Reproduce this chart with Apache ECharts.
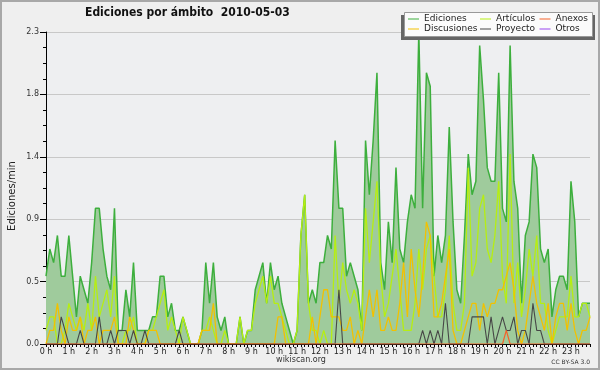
<!DOCTYPE html>
<html><head><meta charset="utf-8">
<script src="https://cdn.jsdelivr.net/npm/echarts@6/dist/echarts.min.js"></script>
<style>html,body{margin:0;padding:0;background:#efefef}#c{width:600px;height:370px}</style>
</head><body><div id="c"></div>
<script>
// ---- data ----
const hourLabels = ["0 h","1 h","2 h","3 h","4 h","5 h","6 h","7 h","8 h","9 h","10 h","11 h","12 h","13 h","14 h","15 h","16 h","17 h","18 h","19 h","20 h","21 h","22 h","23 h"];
const yTickLabels = ["0.0","0.5","0.9","1.4","1.8","2.3"];
const times = [];
for (let h = 0; h < 24; h++) for (let m = 0; m < 60; m += 10) times.push(String(h).padStart(2,"0") + ":" + String(m).padStart(2,"0"));

const ediciones = [
0.5,0.7,0.6,0.8,0.5,0.5,0.8,0.5,0.2,0.5,0.4,0.3,
0.6,1.0,1.0,0.7,0.5,0.4,1.0,0.1,0.1,0.4,0.2,0.6,
0.1,0.1,0.1,0.1,0.2,0.2,0.5,0.5,0.2,0.3,0.1,0.1,
0.2,0.1,0,0,0,0.1,0.6,0.3,0.6,0.2,0.1,0.2,
0,0,0,0.2,0,0.1,0.1,0.4,0.5,0.6,0.3,0.6,
0.4,0.5,0.3,0.2,0.1,0,0.1,0.8,1.1,0.3,0.4,0.3,
0.6,0.6,0.8,0.7,1.5,1.0,1.0,0.5,0.6,0.5,0.4,0.1,
1.5,1.1,1.5,2.0,0.6,0.4,0.9,0.6,1.3,0.7,0.6,0.9,
1.1,1.0,2.3,1.0,2.0,1.9,0.5,0.8,0.6,0.8,1.6,0.9,
0.4,0.3,0.8,1.4,1.1,1.2,2.2,1.8,1.3,1.2,1.2,2.0,
1.0,0.9,2.2,1.2,1.0,0.3,0.8,0.9,1.4,1.3,0.7,0.6,
0.7,0.2,0.4,0.5,0.5,0.4,1.2,0.9,0.2,0.3,0.3,0.3];

const articulos = [
0.1,0.2,0.2,0,0,0.1,0.3,0.2,0.1,0.2,0.1,0.3,
0.1,0.5,0.2,0.3,0.4,0.2,0.5,0,0,0.1,0.1,0.2,
0,0,0,0.1,0.1,0.2,0.3,0.4,0.1,0.2,0.1,0,
0.2,0.1,0,0,0,0.1,0.1,0.2,0.1,0,0,0.1,
0,0,0,0.2,0,0.1,0.1,0.3,0.4,0.5,0.3,0.5,
0.3,0.3,0.2,0.1,0,0,0.1,0.8,1.1,0.3,0.1,0.1,
0,0.1,0,0,0.8,0.3,0.6,0.4,0.3,0.4,0.3,0.1,
1.0,0.6,0.9,1.2,0.5,0.2,0.3,0.5,0.7,0.4,0.1,0.1,
0.1,0.3,0.7,0.4,0.7,0.8,0.5,0.2,0.2,0.4,0.8,0.3,
0.1,0.1,0.3,1.3,0.5,0.6,1.0,1.1,0.7,0.6,0.8,1.2,
0.5,0.3,1.4,0.3,0.6,0.2,0.4,0.7,0.5,0.8,0.3,0.3,
0.1,0,0.1,0.2,0.2,0.2,0.5,0.2,0.2,0.3,0.3,0.2];

const discusiones = [
0,0.1,0.1,0.3,0.1,0,0.2,0.1,0.1,0.2,0,0.1,
0.1,0.2,0,0.1,0.1,0.1,0.2,0,0,0,0.2,0.1,
0,0,0,0.1,0.1,0.1,0,0,0,0,0,0,
0,0,0,0,0,0.1,0.1,0.1,0.3,0,0,0,
0,0,0,0,0,0,0,0,0,0,0,0,
0,0.2,0.2,0,0,0,0,0,0,0,0.2,0,
0.2,0.4,0.4,0.2,0.2,0.2,0.1,0.1,0.2,0,0.1,0,
0.2,0.4,0.2,0.4,0.1,0.1,0.2,0.1,0.1,0.3,0.6,0.2,
0.7,0.4,0.2,0.5,0.9,0.8,0.2,0.2,0.3,0.5,0.7,0.1,
0,0,0.1,0.2,0.3,0.3,0.1,0.3,0.2,0.3,0.3,0.4,
0.4,0.5,0.6,0.4,0.1,0,0.1,0.3,0.5,0.3,0.2,0.1,
0.3,0,0.2,0.3,0.3,0.1,0.3,0.1,0,0.1,0.1,0.2];

const proyecto = [
0,0,0,0,0.2,0.1,0,0,0,0.1,0,0,
0,0,0.2,0,0,0.1,0,0.1,0.1,0.1,0,0.1,
0,0,0.1,0,0,0,0,0,0,0,0,0.1,
0,0,0,0,0,0,0,0,0,0,0,0,
0,0,0,0,0,0,0,0,0,0,0,0,
0,0,0,0,0,0,0,0,0,0,0,0,
0,0,0,0,0,0.4,0,0,0,0,0,0,
0,0,0,0,0,0,0,0,0,0,0,0,
0,0,0,0.1,0,0.1,0,0.1,0,0.3,0,0,
0,0,0,0,0.2,0.2,0.2,0.2,0,0.2,0,0.1,
0.2,0.1,0.1,0.2,0,0.1,0.1,0,0.3,0.1,0.1,0,
0,0,0,0,0,0,0,0,0,0,0,0];

const anexos = [
0,0,0,0,0,0,0,0,0,0,0,0,
0,0,0,0,0,0,0,0,0,0,0,0,
0,0,0,0,0,0,0,0,0,0,0,0,
0,0,0,0,0,0,0,0,0,0,0,0,
0,0,0,0,0,0,0,0,0,0,0,0,
0,0,0,0,0,0,0,0,0,0,0,0,
0,0,0,0,0,0,0,0,0,0,0,0,
0,0,0,0,0,0,0,0,0,0,0,0,
0,0,0,0,0,0,0,0,0,0,0,0,
0,0,0,0,0,0,0,0,0,0,0,0,
0,0.1,0,0,0,0,0,0,0,0,0,0,
0,0,0,0,0,0,0,0,0,0,0,0];

const otros = [
0,0,0,0,0,0,0,0,0,0,0,0,
0,0,0,0,0,0,0,0,0,0,0,0,
0,0,0,0,0,0,0,0,0,0,0,0,
0,0,0,0,0,0,0,0,0,0,0,0,
0,0,0,0,0,0,0,0,0,0,0,0,
0,0,0,0,0,0,0,0,0,0,0,0,
0,0,0,0,0,0,0,0,0,0,0,0,
0,0,0,0,0,0,0,0,0,0,0,0,
0,0,0,0,0,0,0,0,0,0,0,0,
0,0,0,0,0,0,0,0,0,0,0,0,
0,0,0,0,0,0,0,0,0,0,0,0,
0,0,0,0,0,0,0,0,0,0,0,0];

// ---- chart ----
const FONT = "DejaVu Sans";
const chart = echarts.init(document.getElementById('c'), null, {renderer: 'canvas'});
const lineSeries = (name, data, color, width, z) => ({
  name, type: 'line', data, symbol: 'none', z,
  lineStyle: {color, width}, itemStyle: {color}, animation: false
});
const legendBase = (left, names) => ({
  left, top: 14, orient: 'vertical', itemGap: 0, itemWidth: 11, itemHeight: 1,
  icon: 'rect', selectedMode: false, padding: 0, data: names, z: 110,
  textStyle: {fontFamily: FONT, fontSize: 9, color: '#222', lineHeight: 10, padding: [0,0,0,0]}
});
chart.setOption({
  animation: false,
  backgroundColor: '#efefef',
  title: {
    text: 'Ediciones por ámbito  2010-05-03', left: 80, top: 2,
    textStyle: {fontFamily: "'DejaVu Sans Condensed', 'DejaVu Sans'", fontSize: 12, fontWeight: 'bold', color: '#111'}
  },
  graphic: [
    {type: 'rect', shape: {x: 1, y: 1, width: 598, height: 368}, style: {fill: 'none', stroke: '#a8a8a8', lineWidth: 2}, z: -10},
    {type: 'rect', shape: {x: 401, y: 15, width: 194, height: 25}, style: {fill: '#666'}, z: 100},
    {type: 'rect', shape: {x: 404.5, y: 12.5, width: 188, height: 24}, style: {fill: '#fbfbfb', stroke: '#999', lineWidth: 1}, z: 101},
    {type: 'text', x: 12, y: 196, rotation: Math.PI / 2,
      style: {text: 'Ediciones/min', font: '10px "DejaVu Sans"', fill: '#222', align: 'center', verticalAlign: 'middle'}},
    {type: 'text', x: 301, y: 360,
      style: {text: 'wikiscan.org', font: '8px "DejaVu Sans"', fill: '#333', align: 'center', verticalAlign: 'middle'}},
    {type: 'text', x: 590, y: 362,
      style: {text: 'CC BY-SA 3.0', font: '6px "DejaVu Sans"', fill: '#333', align: 'right', verticalAlign: 'middle'}}
  ],
  legend: [
    legendBase(408, ['Ediciones', 'Discusiones']),
    legendBase(480, ['Artículos', 'Proyecto']),
    legendBase(539.5, ['Anexos', 'Otros'])
  ],
  grid: {left: 46, right: 10, top: 32, bottom: 26, show: true, backgroundColor: '#eeeff1', borderWidth: 0},
  xAxis: {
    type: 'category', data: times, boundaryGap: false, z: 5,
    axisLine: {lineStyle: {color: '#000', width: 1}},
    axisTick: {show: true, interval: 0, length: 3, lineStyle: {color: '#000'}},
    axisLabel: {
      interval: (i) => i % 6 === 0, margin: 4, hideOverlap: false,
      fontFamily: FONT, fontSize: 8, color: '#222',
      formatter: (v, i) => hourLabels[Math.floor(i / 6)]
    },
    splitLine: {show: false}
  },
  yAxis: {
    type: 'value', min: 0, max: 2.3, interval: 0.46,
    axisLine: {show: true, lineStyle: {color: '#000'}},
    axisTick: {show: true, length: 6, lineStyle: {color: '#000'}},
    minorTick: {show: true, splitNumber: 4, length: 3, lineStyle: {color: '#000'}},
    axisLabel: {fontFamily: FONT, fontSize: 8, color: '#333', margin: 7,
      formatter: (v) => yTickLabels[Math.round(v / 0.46)]},
    splitLine: {show: true, lineStyle: {color: '#c8c8c8', width: 1}}
  },
  series: [
    Object.assign(lineSeries('Ediciones', ediciones, '#3daf3d', 1.5, 2), {areaStyle: {color: '#9fcb9c', opacity: 1}}),
    lineSeries('Artículos', articulos, '#b6ee12', 1.3, 3),
    lineSeries('Discusiones', discusiones, '#f2c100', 1.3, 4),
    lineSeries('Proyecto', proyecto, '#474747', 1.1, 5),
    lineSeries('Anexos', anexos, '#f5622a', 1.2, 6),
    lineSeries('Otros', otros, '#9944ee', 1, 1)
  ]
});
</script></body></html>
